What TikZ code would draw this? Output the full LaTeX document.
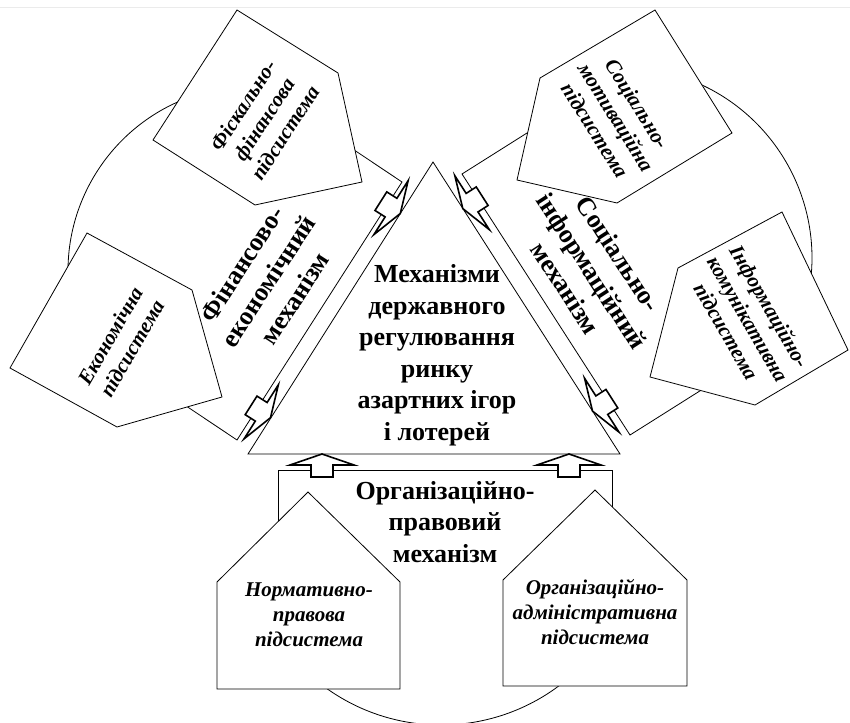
\documentclass[tikz,border=0pt]{standalone}
\usepackage{fontspec}
\setmainfont{Liberation Serif}
\tikzset{
  shp/.style={draw=black, line width=0.8pt, fill=white, line join=miter},
  edgeline/.style={draw=black, line width=0.8pt},
  barrow/.style={draw=black, line width=1.6pt, fill=white, line join=miter, miter limit=12},
  mech/.style={font=\fontsize{26}{31.5}\selectfont\bfseries, align=center, inner sep=0pt},
  subtext/.style={font=\fontsize{21}{25}\selectfont\bfseries\itshape, align=center, inner sep=0pt},
}
\newcommand\myblockarrow[2]{%
  \draw[barrow, shift={(#1)}, rotate=#2] (0,0) -- (-11,32) -- (-11,11) -- (-23,11)
     -- (-23,-11) -- (-11,-11) -- (-11,-32) -- cycle;}
\begin{document}
\begin{tikzpicture}[x=1pt,y=-1pt]
\useasboundingbox[fill=white] (0,0) rectangle (850,722);
\draw[black!8, line width=0.6pt] (0,7) -- (850,7);

% circles (visible arcs)
\draw[edgeline] (68.7,287.1) arc[start angle=175, end angle=255, radius=185];
\draw[edgeline] (670.4,73.5) arc[start angle=285, end angle=370, radius=191];
\draw[edgeline] (580.3,667.3) arc[start angle=45, end angle=132, radius=197];

% mechanism rectangles (far sides hidden under the subsystem shapes)
\draw[edgeline] (319,126.5) -- (402,182) -- (237,440) -- (154,384.5);
\draw[edgeline] (546.5,120.7) -- (462,174) -- (630,435) -- (714.5,381.7);
\draw[edgeline] (278,610) -- (278,470) -- (612,470) -- (612,610);

% subsystem pentagons
\draw[shp] (237,10) -- (338,73) -- (362,182) -- (255,205) -- (153,140) -- cycle;
\draw[shp] (87,233) -- (192,290) -- (222,397) -- (117,427) -- (10,368) -- cycle;
\draw[shp] (655,10) -- (732,133) -- (617,203) -- (517,180) -- (540,78) -- cycle;
\draw[shp] (782,212) -- (848,350) -- (755,405) -- (650,377) -- (678,268) -- cycle;
\draw[shp] (308,492) -- (400,582) -- (400,689) -- (217,689) -- (217,582) -- cycle;
\draw[shp] (595,490) -- (687,580) -- (687,686) -- (503,686) -- (503,580) -- cycle;

% central triangle
\draw[shp] (433,162) -- (620,454) -- (248,454) -- cycle;

% arrows
\coordinate (tLU) at (400.3,213.5);
\coordinate (tLL) at (270.5,417.7);
\coordinate (tRU) at (462.8,208.6);
\coordinate (tRL) at (592.5,411.1);
\coordinate (tBL) at (322,454);
\coordinate (tBR) at (569,454);
\myblockarrow{tLU}{-32.4}
\myblockarrow{tLL}{-32.4}
\myblockarrow{tRU}{-147.4}
\myblockarrow{tRL}{-147.4}
\myblockarrow{tBL}{90}
\myblockarrow{tBR}{90}

% texts
\node[mech] (center) at (437,355) {Механізми\\державного\\регулювання\\ринку\\азартних ігор\\і лотерей};
\node[mech] (orgmech) at (445,522) {Організаційно-\\правовий\\механізм};
\node[mech, rotate=57] (finmech) at (268,281) {Фінансово-\\економічний\\механізм};
\node[mech, rotate=-57] (socmech) at (592,271) {Соціально-\\інформаційний\\механізм};

\node[subtext, rotate=57] (fisc) at (264,119) {Фіскально-\\фінансова\\підсистема};
\node[subtext, rotate=60] (econ) at (121,342) {Економічна\\підсистема};
\node[subtext, rotate=-58] (socmot) at (616,117) {Соціально-\\мотиваційна\\підсистема};
\node[subtext, rotate=-60] (infcom) at (748,319) {Інформаційно-\\комунікативна\\підсистема};
\node[subtext] (norm) at (309,615) {Нормативно-\\правова\\підсистема};
\node[subtext] (orgadm) at (595,612) {Організаційно-\\адміністративна\\підсистема};
\end{tikzpicture}
\end{document}
